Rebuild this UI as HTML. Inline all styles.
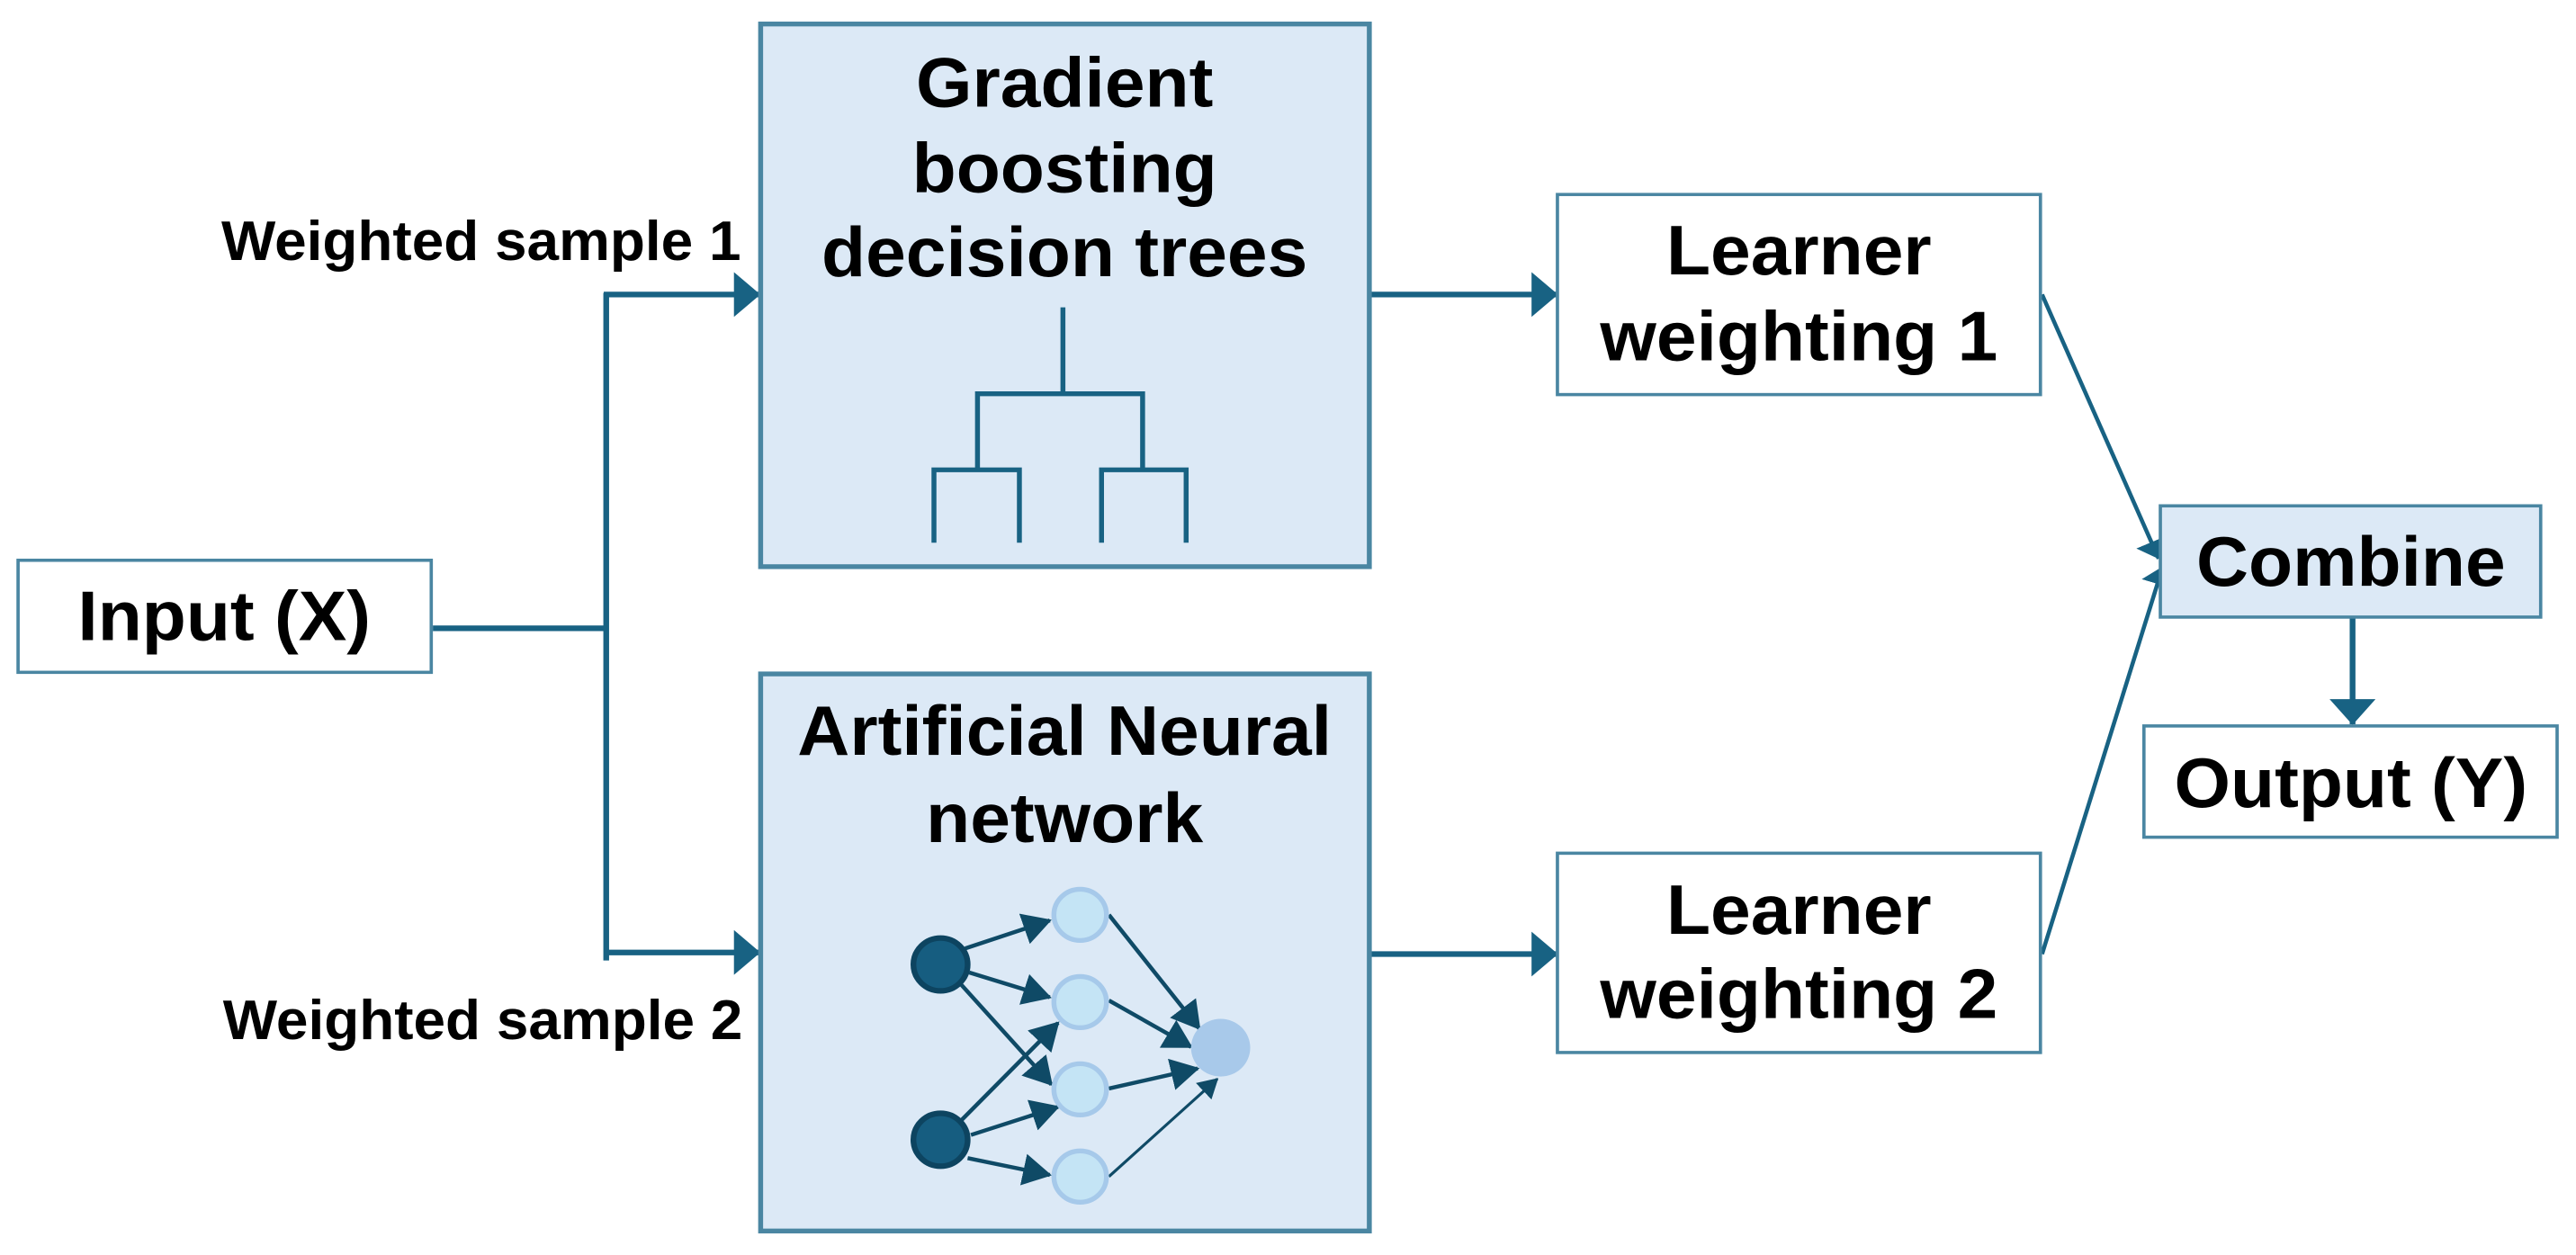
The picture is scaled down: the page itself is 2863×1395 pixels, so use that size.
<!DOCTYPE html>
<html><head><meta charset="utf-8"><style>html,body{margin:0;padding:0;background:#fff}svg{display:block}</style></head>
<body>
<svg width="2863" height="1395" viewBox="0 0 3136 1568" preserveAspectRatio="none" xmlns="http://www.w3.org/2000/svg" font-family="Liberation Sans, Arial, sans-serif" font-weight="bold">
<defs>
<marker id="a" markerWidth="5" markerHeight="8" refX="4.5" refY="4" orient="auto" markerUnits="strokeWidth"><path d="M0,0 L4.6,4 L0,8 Z" fill="#186283"/></marker>
<marker id="n" markerWidth="7" markerHeight="8" refX="6.5" refY="4" orient="auto" markerUnits="strokeWidth"><path d="M0,0 L7,4 L0,8 Z" fill="#0f4a66"/></marker>
</defs>
<g stroke="#186283" stroke-width="7" fill="none">
<polyline points="527,785 738,785"/>
<line x1="738" y1="366" x2="738" y2="1200"/>
<line x1="735" y1="368" x2="925" y2="368" marker-end="url(#a)"/>
<line x1="735" y1="1190" x2="925" y2="1190" marker-end="url(#a)"/>
<line x1="1667" y1="368" x2="1896" y2="368" marker-end="url(#a)"/>
<line x1="1667" y1="1192" x2="1896" y2="1192" marker-end="url(#a)"/>
<line x1="2864" y1="771" x2="2864" y2="905" marker-end="url(#a)"/>
</g>
<g stroke="#186283" stroke-width="5" fill="none">
<line x1="2486" y1="368" x2="2628" y2="698" marker-end="url(#a)"/>
<line x1="2486" y1="1192" x2="2633" y2="708" marker-end="url(#a)"/>
</g>
<g stroke="#4a86a2" stroke-width="4">
<rect x="22" y="700" width="503" height="140" fill="#fff"/>
<rect x="1896" y="243" width="588" height="250" fill="#fff"/>
<rect x="1896" y="1066" width="588" height="249" fill="#fff"/>
<rect x="2610" y="907" width="503" height="139" fill="#fff"/>
<rect x="2630" y="632" width="463" height="139" fill="#dce9f6"/>
</g>
<g stroke="#4a86a2" stroke-width="6" fill="#dce9f6">
<rect x="926" y="30" width="741" height="678"/>
<rect x="926" y="842" width="741" height="696"/>
</g>
<g stroke="#186283" stroke-width="6" fill="none">
<line x1="1294" y1="384" x2="1294" y2="492"/>
<polyline points="1190,585 1190,492 1391,492 1391,585"/>
<polyline points="1137,678 1137,587 1241,587 1241,678"/>
<polyline points="1341,678 1341,587 1444,587 1444,678"/>
</g>
<g stroke="#0f4a66" stroke-width="5" fill="none">
<line x1="1175" y1="1185" x2="1278" y2="1150" marker-end="url(#n)"/>
<line x1="1180" y1="1215" x2="1278" y2="1246" marker-end="url(#n)"/>
<line x1="1170" y1="1230" x2="1280" y2="1355" marker-end="url(#n)"/>
<line x1="1170" y1="1400" x2="1288" y2="1278" marker-end="url(#n)"/>
<line x1="1182" y1="1418" x2="1288" y2="1383" marker-end="url(#n)"/>
<line x1="1178" y1="1447" x2="1278" y2="1468" marker-end="url(#n)"/>
<line x1="1350" y1="1143" x2="1460" y2="1285" marker-end="url(#n)"/>
<line x1="1350" y1="1250" x2="1450" y2="1308" marker-end="url(#n)"/>
<line x1="1350" y1="1360" x2="1458" y2="1335" marker-end="url(#n)"/>
<line x1="1350" y1="1470" x2="1482" y2="1348" stroke-width="3.5" marker-end="url(#n)"/>
</g>
<g stroke="#0d4460" stroke-width="7" fill="#165d80">
<circle cx="1145" cy="1205" r="33"/>
<circle cx="1145" cy="1424" r="33"/>
</g>
<g stroke="#a6c9ea" stroke-width="6" fill="#c4e4f5">
<circle cx="1315" cy="1143" r="32"/>
<circle cx="1315" cy="1252" r="32"/>
<circle cx="1315" cy="1361" r="32"/>
<circle cx="1315" cy="1470" r="32"/>
</g>
<circle cx="1486" cy="1309" r="36" fill="#a8c9ea"/>
<g fill="#000" font-size="88" text-anchor="middle">
<text x="273" y="800">Input (X)</text>
<text x="1296" y="133">Gradient</text>
<text x="1296" y="240">boosting</text>
<text x="1296" y="345">decision trees</text>
<text x="1296" y="943">Artificial Neural</text>
<text x="1296" y="1052">network</text>
<text x="2190" y="343">Learner</text>
<text x="2190" y="450">weighting 1</text>
<text x="2190" y="1167">Learner</text>
<text x="2190" y="1272">weighting 2</text>
<text x="2862" y="732">Combine</text>
<text x="2862" y="1008">Output (Y)</text>
</g>
<g fill="#000" font-size="70" text-anchor="end">
<text x="902" y="325">Weighted sample 1</text>
<text x="904" y="1298">Weighted sample 2</text>
</g>
</svg>
</body></html>
